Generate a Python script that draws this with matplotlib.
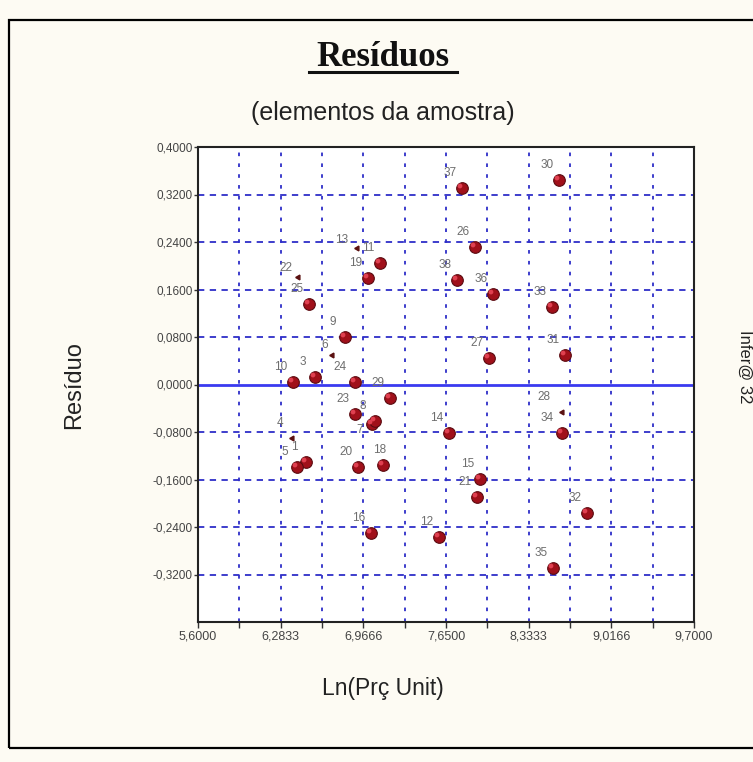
import matplotlib
matplotlib.use("Agg")
import matplotlib.pyplot as plt
from matplotlib.patches import Rectangle
from matplotlib.lines import Line2D
import numpy as np

# ---------------- data ----------------
point_ids = [1, 3, 4, 5, 6, 7, 8, 9, 10, 11, 12, 13, 14, 15, 16, 18, 19, 20, 21,
             22, 23, 24, 25, 26, 27, 28, 29, 30, 31, 32, 33, 34, 35, 36, 37, 38]
ln_prc = [6.493, 6.567, 6.377, 6.418, 6.708, 7.038, 7.063, 6.815, 6.385, 7.104,
          7.592, 6.914, 7.675, 7.931, 7.030, 7.129, 7.005, 6.923, 7.906,
          6.427, 6.898, 6.898, 6.518, 7.890, 8.005, 8.609, 7.187, 8.584, 8.634,
          8.815, 8.526, 8.609, 8.534, 8.038, 7.782, 7.741]
residuo = [-0.1305, 0.0126, -0.0901, -0.1390, 0.0497, -0.0665, -0.0615, 0.0800,
           0.0042, 0.2046, -0.2568, 0.2299, -0.0817, -0.1592, -0.2501, -0.1356,
           0.1794, -0.1390, -0.1895, 0.1811, -0.0497, 0.0042, 0.1356, 0.2316,
           0.0446, -0.0463, -0.0227, 0.3444, 0.0497, -0.2164, 0.1305, -0.0817,
           -0.3090, 0.1524, 0.3310, 0.1760]
small_ids = [4, 6, 13, 22, 28]
x_tick_labels = ["5,6000", "6,2833", "6,9666", "7,6500", "8,3333", "9,0166", "9,7000"]
y_tick_labels = ["0,4000", "0,3200", "0,2400", "0,1600", "0,0800", "0,0000",
                 "-0,0800", "-0,1600", "-0,2400", "-0,3200"]

# label offsets in pixels (dx, dy up) – layout only
default_off = (-12, 15)
label_off = {7: (-12, -6), 18: (-3, 15), 6: (-7, 10), 13: (-15, 8), 22: (-12, 9),
             28: (-18, 15), 34: (-15, 15), 24: (-15, 15)}

W, H, DPI = 753, 762, 100
fig = plt.figure(figsize=(W / DPI, H / DPI), dpi=DPI)
bg = "#FDFBF3"
fig.patch.set_facecolor(bg)

# outer frame
fig.patches.append(Rectangle((9 / W, 1 - 748 / H), 1.2, (748 - 20) / H,
                             transform=fig.transFigure, fill=False,
                             edgecolor="black", linewidth=1.6, zorder=0))

ax = fig.add_axes([198 / W, 1 - 622 / H, (694 - 198) / W, (622 - 147) / H])
ax.set_facecolor("white")
ax.set_xlim(5.6, 9.7)
ax.set_ylim(-0.4, 0.4)

xmaj = np.linspace(5.6, 9.7, 7)
xmin = np.linspace(5.6, 9.7, 13)
ymaj = np.linspace(0.4, -0.32, 10)

grid_c = "#2E2EC8"
for xv in xmin[1:-1]:
    ax.axvline(xv, color=grid_c, lw=1.3, ls=(0, (2, 4)), zorder=1)
for yv in ymaj:
    if abs(yv) < 1e-9 or abs(yv - 0.4) < 1e-9:
        continue
    ax.axhline(yv, color=grid_c, lw=1.3, ls=(0, (3.5, 3)), zorder=1)
ax.axhline(0.0, color="#3A3AF0", lw=2.0, zorder=2)

ax.set_xticks(xmaj)
ax.set_xticklabels(x_tick_labels)
ax.set_xticks(xmin, minor=True)
ax.set_yticks(ymaj)
ax.set_yticklabels(y_tick_labels)
ax.tick_params(axis="both", which="both", direction="out", length=4, width=1,
               color="#333333", labelsize=9, labelcolor="#444444")
ax.tick_params(axis="x", which="major", pad=2)
ax.tick_params(axis="y", which="major", pad=1, length=3, labelsize=8.5)
for lab in ax.get_xticklabels() + ax.get_yticklabels():
    lab.set_family("Liberation Sans")
for s in ax.spines.values():
    s.set_color("#222222")
    s.set_linewidth(1.5)

# points
for pid, xv, yv in zip(point_ids, ln_prc, residuo):
    if pid in small_ids:
        ax.plot([xv], [yv], marker=(3, 0, -30), ms=4, color="#5A1010",
                mec="#5A1010", zorder=4)
    else:
        ax.scatter([xv], [yv], s=70, color="#A0101A", edgecolors="#5A0A10",
                   linewidths=0.8, zorder=4)
        ax.scatter([xv], [yv], s=12, color="#E04050", edgecolors="none",
                   zorder=5, transform=ax.transData +
                   matplotlib.transforms.ScaledTranslation(-2 / DPI, 2 / DPI,
                                                           fig.dpi_scale_trans))
    dx, dy = label_off.get(pid, default_off)
    ax.annotate(str(pid), (xv, yv), xytext=(dx * 72 / DPI, dy * 72 / DPI),
                textcoords="offset points", ha="center", va="center",
                fontsize=8.5, color="#6E6E6E", family="Liberation Sans",
                zorder=6)

# texts
fig.text(383 / W, 1 - 58 / H, "Resíduos", ha="center", va="center",
         fontsize=25, fontweight="bold", family="Liberation Serif",
         color="#111111")
fig.add_artist(Line2D([309 / W, 457 / W], [1 - 72 / H, 1 - 72 / H],
                      transform=fig.transFigure, color="#111111", lw=2.2))
fig.text(383 / W, 1 - 113 / H, "(elementos da amostra)", ha="center",
         va="center", fontsize=18, family="Liberation Sans", color="#222222")
fig.text(74 / W, 1 - 385 / H, "Resíduo", ha="center", va="center",
         rotation=90, fontsize=17, family="Liberation Sans", color="#222222")
fig.text(383 / W, 1 - 689 / H, "Ln(Prç Unit)", ha="center", va="center",
         fontsize=16.5, family="Liberation Sans", color="#222222")
fig.text(745 / W, 1 - 367 / H, "Infer@ 32", ha="center", va="center",
         rotation=270, fontsize=12, family="Liberation Sans", color="#222222")

fig.savefig("out.png", dpi=DPI, facecolor=bg)
